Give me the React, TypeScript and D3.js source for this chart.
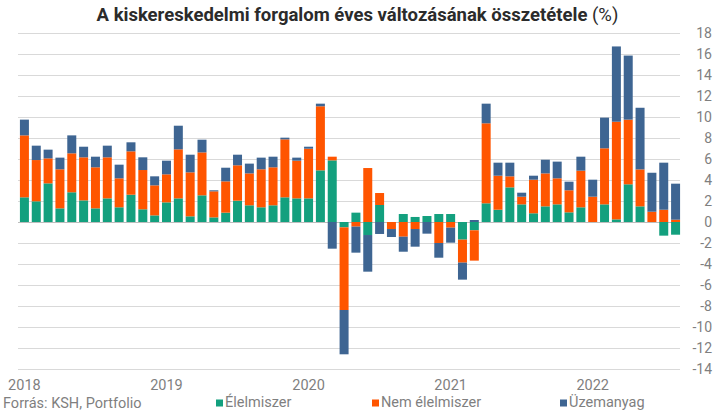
import React from "react";
import * as d3 from "d3";

const months: number[] = d3.range(56);
const yearLabels = ["2018", "2019", "2020", "2021", "2022"];
const yTicks = [-14, -12, -10, -8, -6, -4, -2, 0, 2, 4, 6, 8, 10, 12, 14, 16, 18];

const elelmiszer = [
  2.35, 1.97, 3.68, 1.3, 2.83, 2.06, 1.3, 2.25, 1.4, 2.6, 1.21, 0.63,
  1.87, 2.25, 0.54, 2.54, 0.44, 0.89, 2.03, 1.59, 1.4, 1.59, 2.35, 2.25,
  2.25, 4.92, 5.87, -0.51, 0.89, -1.24, 1.62, 0, 0.76, 0.48, 0.57, 0.76,
  0.76, -1.68, -0.79, 1.78, 1.17, 3.3, 1.68, 0.83, 1.49, 1.68, 0.92, 1.4,
  0, 1.68, 0.25, 3.59, 1.49, 0, -1.3, -1.21,
];
const nemElelmiszer = [
  5.9, 3.93, 2.38, 3.72, 3.71, 4.1, 3.91, 3.91, 2.76, 4.13, 3.74, 2.86,
  2.67, 4.67, 4.19, 4.09, 2.48, 2.98, 3.37, 3.04, 3.62, 3.62, 5.52, 3.59,
  4.73, 6.1, 0.35, -7.87, -0.44, 5.14, 1.14, -0.67, -1.4, -0.67, 0, -2.0,
  -0.54, -2.19, -2.89, 7.62, 3.24, 1.05, 0.73, 3.2, 3.14, 2.48, 2.1, 3.49,
  2.41, 5.34, 9.3, 6.16, 3.52, 0.98, 1.17, 0.22,
];
const uzemanyag = [
  1.5, 1.37, 0.83, 1.11, 1.71, 1.01, 1.01, 1.11, 1.3, 0.86, 1.21, 0.86,
  1.3, 2.25, 1.68, 1.21, 0.1, 1.3, 1.01, 0.93, 1.11, 1.01, 0.16, 0.29,
  0.19, 0.25, -2.54, -4.22, -2.48, -3.49, -1.14, -0.76, -1.43, -1.68, -1.11, -1.4,
  -1.43, -1.62, 0.19, 1.87, 1.24, 1.3, 0.38, 0.38, 1.3, 1.59, 0.82, 1.33,
  1.62, 2.92, 7.17, 6.1, 5.87, 3.71, 4.48, 3.43,
];

const seriesKeys = ["Élelmiszer", "Nem élelmiszer", "Üzemanyag"];
const seriesColors = ["#13a07e", "#ff5500", "#3e6592"];

const W = 719;
const H = 416;
const FONT = "Roboto, 'Noto Sans', sans-serif";
const GREY = "#7f7f7f";

export default function App() {
  const rows = months.map((i) => ({
    i,
    "Élelmiszer": elelmiszer[i],
    "Nem élelmiszer": nemElelmiszer[i],
    "Üzemanyag": uzemanyag[i],
  }));
  const stack = d3
    .stack<any>()
    .keys(seriesKeys)
    .offset(d3.stackOffsetDiverging);
  const stacked = stack(rows);

  const x = d3
    .scaleBand<number>()
    .domain(months)
    .range([18.5, 681.5])
    .paddingInner(0.24)
    .paddingOuter(0.12);
  const y = d3.scaleLinear().domain([-14, 18]).range([369, 33]);

  const legendX = [216, 372, 560];

  return (
    <div style={{ position: "fixed", left: 0, top: 0, width: W, height: H, background: "#fff" }}>
      <svg width={W} height={H} style={{ display: "block" }}>
        <text
          x={357.5}
          y={21}
          textAnchor="middle"
          fontFamily={FONT}
          fontSize={18.5}
          fill="#2b2b2b"
        >
          <tspan fontWeight="bold">A kiskereskedelmi forgalom éves változásának összetétele</tspan>
          <tspan fontWeight="normal"> (%)</tspan>
        </text>

        {yTicks.map((t) => (
          <g key={t}>
            <line
              x1={18}
              x2={680}
              y1={Math.round(y(t)) + 0.5}
              y2={Math.round(y(t)) + 0.5}
              stroke={t === 0 ? "#bdbdbd" : "#d9d9d9"}
              strokeWidth={1}
            />
            <text
              x={712}
              y={y(t)}
              dy="0.35em"
              textAnchor="end"
              fontFamily={FONT}
              fontSize={14}
              fill={GREY}
            >
              {t}
            </text>
          </g>
        ))}

        {stacked.map((layer, si) => (
          <g key={layer.key} fill={seriesColors[si]}>
            {layer.map((d, j) => {
              const y0 = y(d[0]);
              const y1 = y(d[1]);
              return (
                <rect
                  key={j}
                  x={x(months[j])}
                  width={x.bandwidth()}
                  y={Math.min(y0, y1)}
                  height={Math.abs(y0 - y1)}
                />
              );
            })}
          </g>
        ))}

        {yearLabels.map((lab, k) => (
          <text
            key={lab}
            x={(x(months[k * 12]) as number) + x.bandwidth() / 2}
            y={390}
            textAnchor="middle"
            fontFamily={FONT}
            fontSize={14.5}
            fill={GREY}
          >
            {lab}
          </text>
        ))}

        <text x={3} y={407.5} fontFamily={FONT} fontSize={14.5} fill={GREY}>
          Forrás: KSH, Portfolio
        </text>

        {seriesKeys.map((k, i) => (
          <g key={k}>
            <rect x={legendX[i]} y={399.5} width={7} height={7} fill={seriesColors[i]} />
            <text x={legendX[i] + 9} y={407} fontFamily={FONT} fontSize={14.5} fill={GREY}>
              {k}
            </text>
          </g>
        ))}
      </svg>
    </div>
  );
}
